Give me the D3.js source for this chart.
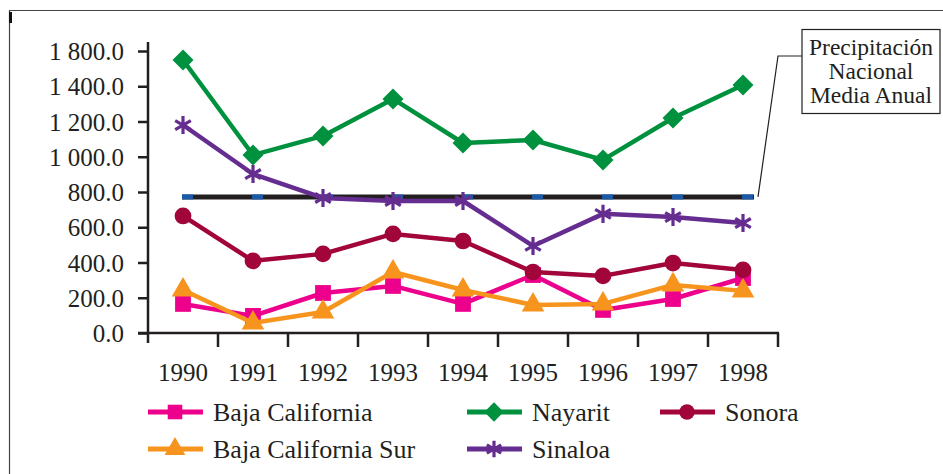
<!DOCTYPE html>
<html><head><meta charset="utf-8">
<script src="https://cdn.jsdelivr.net/npm/d3@7"></script>
<style>
html,body{margin:0;padding:0;background:#fff;}
</style></head>
<body>
<svg id="chart" width="943" height="474"></svg>
<script>
const years = ["1990","1991","1992","1993","1994","1995","1996","1997","1998"];
const bajaCalifornia    = [165, 97, 227, 267, 165, 329, 131, 193, 312];
const bajaCaliforniaSur = [244, 57, 119, 346, 244, 159, 165, 273, 239];
const nayarit           = [1549, 1010, 1118, 1328, 1078, 1095, 982, 1220, 1407];
const sinaloa           = [1180, 902, 766, 749, 749, 494, 676, 658, 624];
const sonora            = [664, 409, 449, 562, 522, 346, 324, 397, 358];
const nacional          = 772;
const yTickValues = [0, 200, 400, 600, 800, 1000, 1200, 1400, 1600];
const yTickLabels = ["0.0", "200.0", "400.0", "600.0", "800.0", "1 000.0", "1 200.0", "1 400.0", "1 800.0"];
const calloutLines = ["Precipitación", "Nacional", "Media Anual"];

const series = [
  {name:"Baja California", values:bajaCalifornia, color:"#EC008C", sym:"square"},
  {name:"Baja California Sur", values:bajaCaliforniaSur, color:"#F7941D", sym:"triangle"},
  {name:"Nayarit", values:nayarit, color:"#00913F", sym:"diamond"},
  {name:"Sinaloa", values:sinaloa, color:"#662D91", sym:"asterisk"},
  {name:"Sonora", values:sonora, color:"#A1053A", sym:"circle"}
];

const FONT = "'Liberation Serif', 'Times New Roman', Tinos, serif";
const svg = d3.select("#chart");
const ink = "#231F20";

// frame
svg.append("path").attr("d","M9.5,474 L9.5,10.5 L943,10.5").attr("fill","none").attr("stroke","#444").attr("stroke-width",1.2);
svg.append("rect").attr("x",9).attr("y",12).attr("width",3).attr("height",11).attr("fill","#111");

const x = d3.scaleBand().domain(years).range([148, 778]);
const y = d3.scaleLinear().domain([0, 1600]).range([333, 51]);
const cx = d => x(d) + x.bandwidth()/2;

// y axis
const yAxis = svg.append("g").attr("transform","translate(148,0)")
  .call(d3.axisLeft(y).tickValues(yTickValues).tickSize(10).tickPadding(14)
        .tickFormat((d,i)=>yTickLabels[i]));
yAxis.attr("font-family", FONT).attr("font-size", 25);
yAxis.select(".domain").remove();
yAxis.selectAll("line").attr("stroke",ink).attr("stroke-width",2.5);
yAxis.selectAll("text").attr("fill",ink).attr("dy","0.34em");

// x axis labels
const xAxis = svg.append("g").attr("transform","translate(0,333)")
  .call(d3.axisBottom(x).tickSize(0).tickPadding(30));
xAxis.attr("font-family", FONT).attr("font-size", 25);
xAxis.select(".domain").remove();
xAxis.selectAll("text").attr("fill",ink);

// axis lines
svg.append("line").attr("x1",148).attr("x2",148).attr("y1",42).attr("y2",343).attr("stroke",ink).attr("stroke-width",2.5);
svg.append("line").attr("x1",138).attr("x2",779).attr("y1",333).attr("y2",333).attr("stroke",ink).attr("stroke-width",2.5);
svg.append("g").selectAll("line").data(years).join("line")
  .attr("x1",d=>x(d)+x.bandwidth()).attr("x2",d=>x(d)+x.bandwidth())
  .attr("y1",333).attr("y2",347).attr("stroke",ink).attr("stroke-width",2.5);

// national line
const yn = y(nacional);
svg.append("line").attr("x1",cx(years[0])-1).attr("x2",cx(years[years.length-1])+11)
  .attr("y1",yn).attr("y2",yn).attr("stroke",ink).attr("stroke-width",5);
svg.append("g").selectAll("rect").data(years).join("rect")
  .attr("x",d=>cx(d)-1).attr("y",yn-2.5).attr("width",11).attr("height",5).attr("fill","#1B5AA8");

// callout
svg.append("path").attr("d",`M${cx(years[8])+15},${yn} L778,56 L802,56`).attr("fill","none").attr("stroke",ink).attr("stroke-width",1.2);
svg.append("rect").attr("x",802).attr("y",29.5).attr("width",138).attr("height",84).attr("fill","#fff").attr("stroke",ink).attr("stroke-width",1.2);
svg.append("g").attr("font-family", FONT).attr("font-size", 23.5).attr("fill", ink)
  .selectAll("text").data(calloutLines).join("text")
  .attr("x",871).attr("y",(d,i)=>55+i*24).attr("text-anchor","middle").text(d=>d);

function symbolPath(sym, big){
  const s = big ? 1 : 0.85;
  switch(sym){
    case "square": return d3.symbol(d3.symbolSquare, 250*s)();
    case "triangle": return d3.symbol(d3.symbolTriangle, 220*s)();
    case "diamond": return d3.symbol(d3.symbolSquare, 220*s)();
    case "circle": return d3.symbol(d3.symbolCircle, 220*s)();
    case "asterisk": return d3.symbol(d3.symbolAsterisk, 230*s)();
  }
}
function drawMarker(g, sym, color, big){
  const p = g.append("path").attr("d", symbolPath(sym, big));
  if(sym==="diamond") p.attr("transform","rotate(45)");
  if(sym==="asterisk") p.attr("fill","none").attr("stroke",color).attr("stroke-width",3.2);
  else p.attr("fill",color);
}

const line = d3.line().x((d,i)=>cx(years[i])).y(d=>y(d));
series.forEach(s=>{
  svg.append("path").datum(s.values).attr("d",line).attr("fill","none")
    .attr("stroke",s.color).attr("stroke-width",4.5).attr("stroke-linejoin","round");
  s.values.forEach((v,i)=>{
    const g = svg.append("g").attr("transform",`translate(${cx(years[i])},${y(v)})`);
    drawMarker(g, s.sym, s.color, true);
  });
});

// legend
const legendPos = {
  "Baja California":[148,412], "Baja California Sur":[148,449],
  "Nayarit":[467,412], "Sinaloa":[467,449], "Sonora":[660,412]
};
series.forEach(s=>{
  const [lx,ly] = legendPos[s.name];
  const g = svg.append("g").attr("transform",`translate(${lx},${ly})`);
  g.append("line").attr("x1",0).attr("x2",55).attr("y1",0).attr("y2",0).attr("stroke",s.color).attr("stroke-width",5);
  const m = g.append("g").attr("transform","translate(27,0)");
  drawMarker(m, s.sym, s.color, false);
  g.append("text").attr("x",65).attr("y",9).attr("font-family", FONT).attr("font-size", 26).attr("fill", ink).text(s.name);
});
</script>
</body></html>
